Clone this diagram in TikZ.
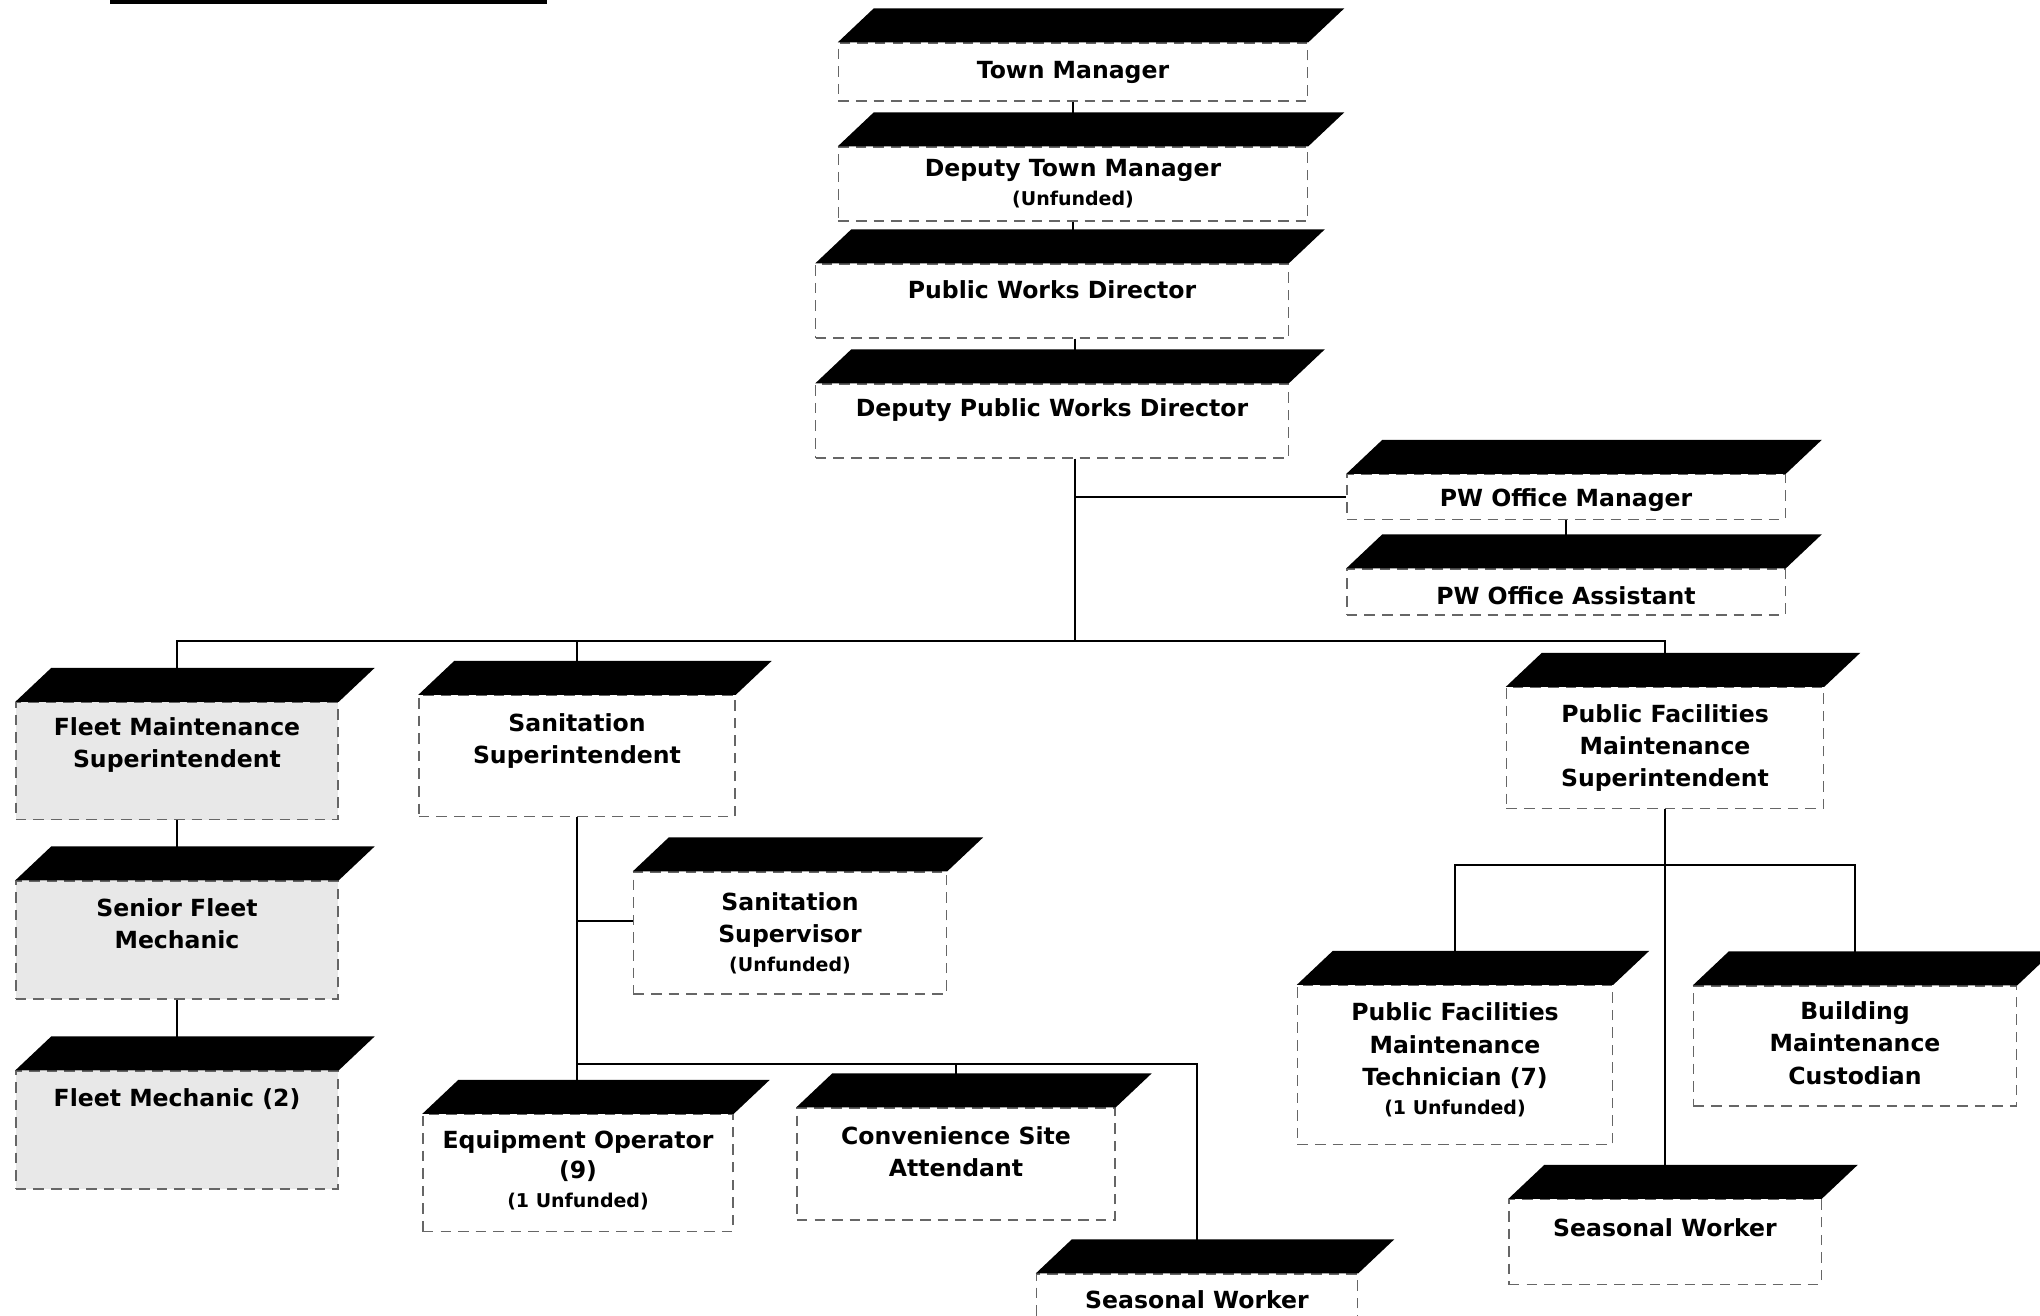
\documentclass[tikz,border=0pt]{standalone}
\usepackage{fontspec}
\setmainfont{DejaVu Sans}
\usetikzlibrary{positioning,calc}
\newcommand{\notesize}{\fontsize{5.4}{7}\selectfont}

\begin{document}
\begin{tikzpicture}[x=0.01cm,y=-0.01cm,
   post/.style={draw=black!60,densely dashed,line width=0.35pt,fill=white,inner sep=0pt},
   fleet/.style={post,fill=black!9},
   title/.style={font=\fontsize{6.7}{9.2}\selectfont\bfseries,align=center,anchor=center,inner sep=0pt},
   link/.style={line width=0.6pt},
   roof/.style={fill=black}]
  \useasboundingbox (0,0) rectangle (2040,1315);
  \clip (0,0) rectangle (2040,1315);
  \draw[line width=1.1pt] (110,2) -- (547,2);
  % management chain
  \node[post,minimum width=4.69cm,minimum height=0.58cm,label={[title]center:Town Manager}] (tm) at (1073,72) {};
  \node[post,minimum width=4.69cm,minimum height=0.74cm,
        label={[title]center:Deputy Town Manager\\[-1pt]{\notesize (Unfunded)}}] (dtm) at (1073,184) {};
  \node[post,minimum width=4.72cm,minimum height=0.74cm,label={[title,yshift=0.11cm]center:Public Works Director}] (pwd) at (1052,301) {};
  \node[post,minimum width=4.72cm,minimum height=0.74cm,label={[title,yshift=0.11cm]center:Deputy Public Works Director}] (dpwd) at (1052,421) {};
  \node[post,minimum width=4.38cm,minimum height=0.45cm,label={[title,yshift=-0.03cm]center:PW Office Manager}] (pwom) at (1566,497) {};
  \node[post,minimum width=4.38cm,minimum height=0.46cm,label={[title,yshift=-0.04cm]center:PW Office Assistant}] (pwoa) at (1566,592) {};
  % fleet
  \node[fleet,minimum width=3.22cm,minimum height=1.17cm,
        label={[title,yshift=0.16cm]center:Fleet Maintenance\\Superintendent}] (fms) at (177,761) {};
  \node[fleet,minimum width=3.22cm,minimum height=1.18cm,
        label={[title,yshift=0.16cm]center:Senior Fleet\\Mechanic}] (sfm) at (177,940) {};
  \node[fleet,minimum width=3.22cm,minimum height=1.18cm,label={[title,yshift=0.31cm]center:Fleet Mechanic (2)}] (fm) at (177,1130) {};
  % sanitation
  \node[post,minimum width=3.16cm,minimum height=1.21cm,
        label={[title,yshift=0.15cm]center:Sanitation\\Superintendent}] (ss) at (577,756) {};
  \node[post,minimum width=3.13cm,minimum height=1.22cm,
        label={[title]center:Sanitation\\Supervisor\\[-1pt]{\notesize (Unfunded)}}] (ssup) at (790,933) {};
  \node[post,minimum width=3.10cm,minimum height=1.17cm,
        label={[title,yshift=0.03cm]center:Equipment Operator\\[-0.7pt](9)\\[-1pt]{\notesize (1 Unfunded)}}] (eo) at (578,1173) {};
  \node[post,minimum width=3.18cm,minimum height=1.12cm,
        label={[title,yshift=0.12cm]center:Convenience Site\\Attendant}] (csa) at (956,1164) {};
  \node[post,minimum width=3.21cm,minimum height=1.00cm,label={[title,yshift=0.24cm]center:Seasonal Worker}] (sw) at (1197,1324) {};
  % public facilities
  \node[post,minimum width=3.17cm,minimum height=1.21cm,
        label={[title]center:Public Facilities\\Maintenance\\Superintendent}] (pfms) at (1665,748) {};
  \node[post,minimum width=3.15cm,minimum height=1.59cm,
        label={[title,yshift=0.05cm]center:Public Facilities\\Maintenance\\Technician (7)\\[-1pt]{\notesize (1 Unfunded)}}] (pfmt) at (1455,1065) {};
  \node[post,minimum width=3.23cm,minimum height=1.20cm,
        label={[title,yshift=0.03cm]center:Building\\Maintenance\\Custodian}] (bmc) at (1855,1046) {};
  \node[post,minimum width=3.12cm,minimum height=0.85cm,label={[title,yshift=0.14cm]center:Seasonal Worker}] (pfsw) at (1665,1242) {};
  % connectors
  \coordinate (hub) at (1075,641);
  \coordinate (sfork) at (577,921);
  \coordinate (sbus) at (577,1064);
  \coordinate (pbus) at (1666,865);
  \draw[link] (tm.south) -- (tm.south |- dtm.north);
  \draw[link] (dtm.south) -- (dtm.south |- pwd.north);
  \draw[link] (pwd.south -| hub) -- (hub |- dpwd.north);
  \draw[link] (dpwd.south -| hub) -- (hub);
  \draw[link] (hub |- pwom.west) -- (pwom.west);
  \draw[link] (pwom.south) -- (pwom.south |- pwoa.north);
  \draw[link] (fms.north) |- (hub) -| (pfms.north);
  \draw[link] (ss.north) -- (ss.north |- hub);
  \draw[link] (fms.south) -- (fms.south |- sfm.north);
  \draw[link] (sfm.south) -- (sfm.south |- fm.north);
  \draw[link] (ss.south) -- (ss.south |- eo.north);
  \draw[link] (sfork) -- (sfork -| ssup.west);
  \draw[link] (sbus) -| (sw.north);
  \draw[link] (csa.north) -- (csa.north |- sbus);
  \draw[link] (pfms.south) -- (pfms.south |- pfsw.north);
  \draw[link] (pfmt.north) |- (pbus) -| (bmc.north);
  % black tops
  \foreach \n in {tm,dtm,pwd,dpwd,pwom,pwoa,fms,sfm,fm,ss,ssup,eo,csa,sw,pfms,pfmt,bmc,pfsw}
    \fill[roof] (\n.north west) -- ++(0.36cm,0.34cm) -- ([shift={(0.36cm,0.34cm)}]\n.north east) -- (\n.north east) -- cycle;
\end{tikzpicture}
\end{document}
